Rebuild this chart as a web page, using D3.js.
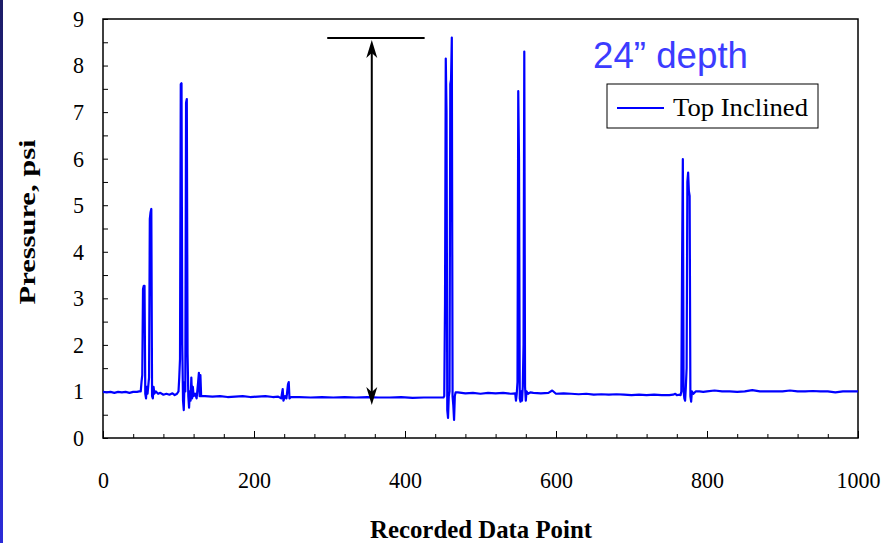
<!DOCTYPE html>
<html lang="en">
<head>
<meta charset="UTF-8">
<title>Pressure - 24" depth</title>
<script src="https://d3js.org/d3.v7.min.js"></script>
<style>
  body { margin: 0; background: #fff; }
  .tick text { font-family: "Liberation Serif", "Times New Roman", serif; font-size: 23px; fill: #000; }
  .tick line { stroke: #000; stroke-width: 1px; }
  .domain { display: none; }
</style>
</head>
<body>
<svg width="883" height="543"></svg>
<script>
const pointX = [0,5,10,15,20,25,30,35,40,45,48,
  50,51,52,53,54,55,56,57,58,59,61,62,63,64,65,66,67,68,70,73,76,80,84,88,92,95,98,100,
  101,102,103,104,105,106,107,108,109,110,111,112,113,114,115,116,117,118,119,120,122,124,126,127,128,129,130,
  135,145,155,165,175,185,195,205,215,225,232,
  236,238,239,241,243,245,246,247,249,
  260,275,290,305,320,335,350,365,380,395,410,425,440,450,
  451,452,453,454,455,456,457,458,459,460,461,462,463,464,465,466,467,
  470,480,490,500,510,520,530,540,546,
  547,548,549,550,551,552,553,554,555,556,557,558,559,560,561,563,566,
  570,580,590,595,600,610,620,630,640,650,660,670,680,690,700,710,720,730,740,750,755,758,760,763,
  765,766,767,768,769,770,771,772,773,774,775,776,777,778,779,780,782,785,
  790,795,800,810,820,830,840,850,860,870,880,890,900,910,920,930,940,950,960,970,980,990,1000];
const pressure = [0.99,0.98,0.99,0.97,0.99,0.98,0.99,0.97,0.99,0.99,1.0,
  1.0,1.2,1.35,3.2,3.27,3.27,0.95,0.85,1.1,0.95,1.3,4.7,4.85,4.92,0.9,0.85,1.1,0.95,1.0,0.95,0.97,0.93,0.95,0.93,0.96,0.92,0.95,1.0,
  1.3,1.7,7.6,7.62,2.0,0.8,0.6,1.2,1.0,7.2,7.28,1.8,0.9,0.65,1.0,0.8,1.3,0.85,1.1,0.9,0.95,0.85,1.2,1.4,0.9,1.35,0.9,
  0.9,0.89,0.9,0.88,0.89,0.9,0.88,0.89,0.9,0.88,0.89,
  0.85,1.05,0.8,0.9,0.85,1.15,1.2,0.85,0.88,
  0.88,0.87,0.88,0.87,0.88,0.87,0.88,0.87,0.87,0.88,0.86,0.87,0.87,0.87,
  0.87,0.9,2.9,8.15,7.0,0.6,0.43,0.9,1.0,7.6,7.7,8.6,0.9,0.7,0.39,0.9,0.98,
  0.98,0.96,0.97,0.95,0.97,0.96,0.97,0.95,0.96,
  0.8,0.95,1.2,7.45,6.0,0.85,0.78,1.0,0.8,1.1,2.0,8.3,1.1,0.8,1.0,0.95,0.98,
  0.97,0.96,0.97,1.02,0.95,0.96,0.95,0.94,0.95,0.93,0.94,0.93,0.94,0.93,0.92,0.93,0.92,0.93,0.92,0.92,0.93,0.95,0.92,0.93,
  0.92,1.0,3.8,5.99,1.0,0.85,0.8,1.1,1.5,5.5,5.7,5.3,5.2,0.9,0.78,1.0,0.95,1.0,
  1.0,0.99,1.0,1.02,1.0,1.0,0.99,1.0,1.03,1.0,1.0,1.0,1.0,1.02,1.0,1.0,1.01,1.0,1.0,0.98,1.0,1.0,1.0];

const xTicks = [0,200,400,600,800,1000];
const yTicks = [0,1,2,3,4,5,6,7,8,9];
// annotation: vertical span arrow and its cap line (data coords)
const arrowX = 356, arrowTop = 8.55, arrowBottom = 0.71;
const capFrom = 297, capTo = 426, capY = 8.59;

const svg = d3.select("svg");
const margin = {left: 103, right: 25, top: 19, bottom: 105};
const W = 883, H = 543;

const x = d3.scaleLinear().domain([0, 1000]).range([margin.left, W - margin.right]);
const y = d3.scaleLinear().domain([0, 9]).range([H - margin.bottom, margin.top]);

// slide edge strip on the left
const grad = svg.append("defs").append("linearGradient")
    .attr("id", "edge").attr("x1", 0).attr("y1", 0).attr("x2", 0).attr("y2", 1);
grad.append("stop").attr("offset", "0%").attr("stop-color", "#1c1c66");
grad.append("stop").attr("offset", "100%").attr("stop-color", "#2b2bd8");
svg.append("rect").attr("x", 0).attr("y", 0).attr("width", 3).attr("height", H).attr("fill", "url(#edge)");

// minor ticks
svg.append("g").attr("transform", `translate(${x(0)},0)`)
    .call(d3.axisLeft(y).tickValues(d3.range(0.5, 9, 1)).tickSize(-5).tickFormat(""));
svg.append("g").attr("transform", `translate(0,${y(0)})`)
    .call(d3.axisBottom(x).tickValues(d3.range(40, 1000, 40).filter(v => v % 200 !== 0)).tickSize(-4).tickFormat(""));

// major ticks with labels, stretched a little taller than wide like the original
const squeeze = sel => sel.selectAll(".tick text")
    .attr("transform", "scale(1,1.08)")
    .attr("textLength", function() { return this.textContent.length * 11; })
    .attr("lengthAdjust", "spacingAndGlyphs");
svg.append("g").attr("transform", `translate(${x(0)},0)`)
    .call(d3.axisLeft(y).tickValues(yTicks).tickSize(-5).tickPadding(19).tickFormat(d3.format("d")))
    .call(sel => sel.selectAll(".tick text")
        .attr("textLength", function() { return this.textContent.length * 11; })
        .attr("lengthAdjust", "spacingAndGlyphs"));
svg.append("g").attr("transform", `translate(0,${y(0)})`)
    .call(d3.axisBottom(x).tickValues(xTicks).tickSize(-7).tickPadding(34).tickFormat(d3.format("d")))
    .call(sel => sel.selectAll(".tick text")
        .attr("textLength", function() { return this.textContent.length * 11; })
        .attr("lengthAdjust", "spacingAndGlyphs"));

// plot frame
svg.append("rect")
    .attr("x", x(0)).attr("y", y(9))
    .attr("width", x(1000) - x(0)).attr("height", y(0) - y(9))
    .attr("fill", "none").attr("stroke", "#000").attr("stroke-width", 1.5);

// series
const line = d3.line().x((d, i) => x(pointX[i])).y((d, i) => y(pressure[i]));
svg.append("path")
    .attr("d", line(pressure))
    .attr("fill", "none")
    .attr("stroke", "#0000ff")
    .attr("stroke-width", 2.2)
    .attr("stroke-linejoin", "round");

// arrow annotation
svg.append("line")
    .attr("x1", x(capFrom)).attr("x2", x(capTo))
    .attr("y1", y(capY)).attr("y2", y(capY))
    .attr("stroke", "#000").attr("stroke-width", 2);
svg.append("line")
    .attr("x1", x(arrowX)).attr("x2", x(arrowX))
    .attr("y1", y(arrowTop) + 10).attr("y2", y(arrowBottom) - 10)
    .attr("stroke", "#000").attr("stroke-width", 2);
function head(tipY, dir) {
  const ax = x(arrowX);
  svg.append("path")
    .attr("d", `M${ax},${tipY} L${ax - 5.5},${tipY + dir * 18} L${ax},${tipY + dir * 13} L${ax + 5.5},${tipY + dir * 18} Z`)
    .attr("fill", "#000");
}
head(y(arrowTop), 1);
head(y(arrowBottom), -1);

// title
svg.append("text")
    .attr("x", 593).attr("y", 68)
    .attr("font-family", "Liberation Sans, Arial, sans-serif")
    .attr("font-size", 36)
    .attr("textLength", 155).attr("lengthAdjust", "spacingAndGlyphs")
    .attr("fill", "#3c3cff")
    .text("24\u201D depth");

// legend
const lg = svg.append("g");
lg.append("rect").attr("x", 607).attr("y", 84).attr("width", 211).attr("height", 44)
    .attr("fill", "#fff").attr("stroke", "#000").attr("stroke-width", 1);
lg.append("line").attr("x1", 617).attr("x2", 664).attr("y1", 108).attr("y2", 108)
    .attr("stroke", "#0000ff").attr("stroke-width", 2);
lg.append("text").attr("x", 673).attr("y", 116)
    .attr("font-family", "Liberation Serif, Times New Roman, serif").attr("font-size", 25)
    .attr("textLength", 135).attr("lengthAdjust", "spacingAndGlyphs")
    .text("Top Inclined");

// axis titles
svg.append("text")
    .attr("x", 481).attr("y", 538)
    .attr("text-anchor", "middle")
    .attr("font-family", "Liberation Serif, Times New Roman, serif")
    .attr("font-weight", "bold").attr("font-size", 25)
    .attr("textLength", 222).attr("lengthAdjust", "spacingAndGlyphs")
    .text("Recorded Data Point");
svg.append("text")
    .attr("transform", "translate(35,222) rotate(-90)")
    .attr("text-anchor", "middle")
    .attr("font-family", "Liberation Serif, Times New Roman, serif")
    .attr("font-weight", "bold").attr("font-size", 24)
    .attr("textLength", 165).attr("lengthAdjust", "spacingAndGlyphs")
    .text("Pressure, psi");
</script>
</body>
</html>
